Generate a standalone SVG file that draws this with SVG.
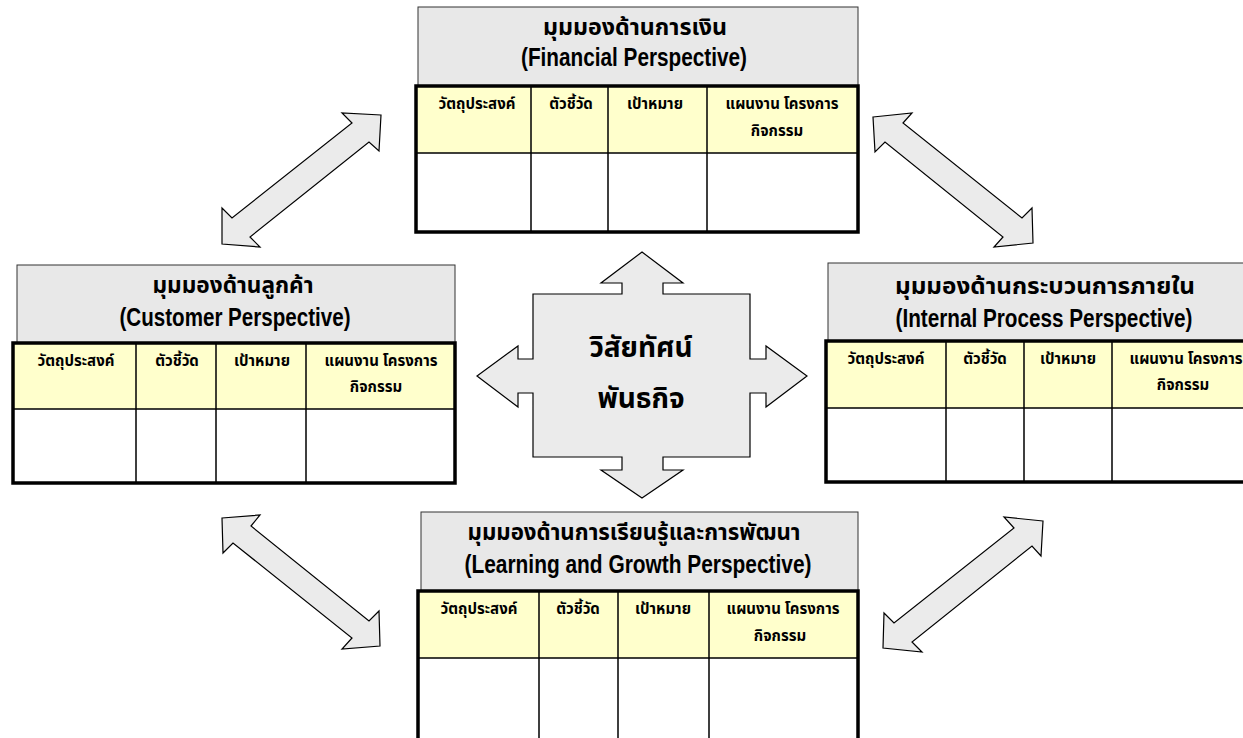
<svg xmlns="http://www.w3.org/2000/svg" width="1243" height="738" viewBox="0 0 1243 738">
<style>
.title{fill:#e8e8e8;stroke:#333;stroke-width:1}
.hdr{fill:#ffffcc}
.body{fill:#ffffff}
.outer{fill:none;stroke:#000;stroke-width:3.5}
.inner{stroke:#000;stroke-width:1.5;fill:none}
.arrow{fill:#ebebeb;stroke:#000;stroke-width:1.2;stroke-linejoin:miter}
.t1{font-family:"Noto Sans Thai","Noto Sans","Liberation Sans",sans-serif;font-weight:bold;font-size:23px;fill:#000;text-anchor:middle}
.t2{font-family:"Liberation Sans",Arial,sans-serif;font-weight:bold;font-size:26px;fill:#000;text-anchor:middle}
.h{font-family:"Noto Sans Thai","Noto Sans","Liberation Sans",sans-serif;font-weight:bold;font-size:15px;fill:#000;text-anchor:middle}
.c{font-family:"Noto Sans Thai","Noto Sans","Liberation Sans",sans-serif;font-weight:bold;font-size:28px;fill:#000;text-anchor:middle}
</style>

<g id="connectors">
<polygon class="arrow" points="381,115 342,113 352,123 232,218 222,208 222,244 260,247 250,237 369,142 379,151"/>
<polygon class="arrow" points="873,117 912,113 903,123 1022,218 1032,208 1033,243 994,247 1003,237 885,142 875,152"/>
<polygon class="arrow" points="222,518 260,515 251,526 369,621 379,611 380,646 342,649 352,638 233,543 223,553"/>
<polygon class="arrow" points="1043,521 1004,517 1014,528 894,623 884,613 883,648 922,652 912,642 1032,546 1041,556"/>
</g>

<g id="vision">
<polygon class="arrow" points="642,252 683,283 663,283 663,294 750,294 750,359 766,359 766,346 807,376 766,407 766,393 750,393 750,457 663,457 663,470 683,470 642,498 601,470 622,470 622,457 533,457 533,393 518,393 518,407 477,376 518,346 518,359 533,359 533,294 622,294 622,283 601,283"/>
<text class="c" x="641" y="357">วิสัยทัศน์</text>
<text class="c" x="641" y="408">พันธกิจ</text>
</g>

<g id="financial">
<rect class="title" x="418" y="7" width="440" height="79"/>
<text class="t1" x="635" y="35" textLength="184" lengthAdjust="spacingAndGlyphs">มุมมองด้านการเงิน</text>
<text class="t2" x="634" y="66" textLength="226" lengthAdjust="spacingAndGlyphs">(Financial Perspective)</text>
<rect class="hdr" x="416" y="86" width="442" height="67"/>
<rect class="body" x="416" y="153" width="442" height="79"/>
<path class="inner" d="M416,153H858M531,86V232M608,86V232M707,86V232"/>
<rect class="outer" x="416" y="86" width="442" height="146"/>
<text class="h" x="477" y="109">วัตถุประสงค์</text>
<text class="h" x="571" y="109">ตัวชี้วัด</text>
<text class="h" x="655" y="109">เป้าหมาย</text>
<text class="h" x="782" y="109">แผนงาน โครงการ</text>
<text class="h" x="777" y="136">กิจกรรม</text>
</g>

<g id="customer">
<rect class="title" x="17" y="265" width="438" height="78"/>
<text class="t1" x="233" y="293" textLength="161" lengthAdjust="spacingAndGlyphs">มุมมองด้านลูกค้า</text>
<text class="t2" x="235" y="326" textLength="231" lengthAdjust="spacingAndGlyphs">(Customer Perspective)</text>
<rect class="hdr" x="13" y="343" width="442" height="66"/>
<rect class="body" x="13" y="409" width="442" height="74"/>
<path class="inner" d="M13,409H455M136,343V483M216,343V483M306,343V483"/>
<rect class="outer" x="13" y="343" width="442" height="140"/>
<text class="h" x="76" y="366">วัตถุประสงค์</text>
<text class="h" x="177" y="366">ตัวชี้วัด</text>
<text class="h" x="262" y="366">เป้าหมาย</text>
<text class="h" x="381" y="366">แผนงาน โครงการ</text>
<text class="h" x="376" y="392">กิจกรรม</text>
</g>

<g id="internal">
<rect class="title" x="828" y="263" width="434" height="78"/>
<text class="t1" x="1045" y="294" textLength="300" lengthAdjust="spacingAndGlyphs">มุมมองด้านกระบวนการภายใน</text>
<text class="t2" x="1044" y="327" textLength="297" lengthAdjust="spacingAndGlyphs">(Internal Process Perspective)</text>
<rect class="hdr" x="826" y="341" width="436" height="67"/>
<rect class="body" x="826" y="408" width="436" height="74"/>
<path class="inner" d="M826,408H1262M946,341V482M1024,341V482M1112,341V482"/>
<rect class="outer" x="826" y="341" width="436" height="141"/>
<text class="h" x="886" y="364">วัตถุประสงค์</text>
<text class="h" x="985" y="364">ตัวชี้วัด</text>
<text class="h" x="1068" y="364">เป้าหมาย</text>
<text class="h" x="1186" y="364">แผนงาน โครงการ</text>
<text class="h" x="1183" y="390">กิจกรรม</text>
</g>

<g id="learning">
<rect class="title" x="421" y="512" width="437" height="79"/>
<text class="t1" x="634" y="540" textLength="333" lengthAdjust="spacingAndGlyphs">มุมมองด้านการเรียนรู้และการพัฒนา</text>
<text class="t2" x="638" y="573" textLength="347" lengthAdjust="spacingAndGlyphs">(Learning and Growth Perspective)</text>
<rect class="hdr" x="418" y="591" width="440" height="67"/>
<rect class="body" x="418" y="658" width="440" height="90"/>
<path class="inner" d="M418,658H858M539,591V748M618,591V748M709,591V748"/>
<rect class="outer" x="418" y="591" width="440" height="157"/>
<text class="h" x="479" y="614">วัตถุประสงค์</text>
<text class="h" x="578" y="614">ตัวชี้วัด</text>
<text class="h" x="663" y="614">เป้าหมาย</text>
<text class="h" x="783" y="614">แผนงาน โครงการ</text>
<text class="h" x="780" y="641">กิจกรรม</text>
</g>
</svg>
